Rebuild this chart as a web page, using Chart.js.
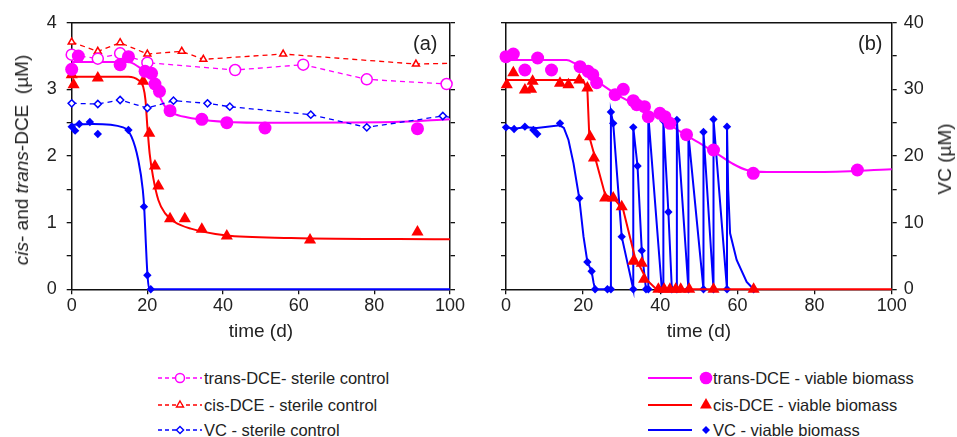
<!DOCTYPE html>
<html><head><meta charset="utf-8">
<script src="https://cdn.jsdelivr.net/npm/chart.js@4.4.1/dist/chart.umd.min.js"></script>
<style>
html,body{margin:0;padding:0;background:#fff;}
body{width:957px;height:437px;position:relative;overflow:hidden;font-family:"Liberation Sans",Arial,sans-serif;color:#222;}
canvas{position:absolute;top:0;}
#ca{left:0;}
#cb{left:470px;}
.lbl{position:absolute;font-size:20px;line-height:20px;}
.ytitle{position:absolute;font-size:19px;line-height:20px;white-space:nowrap;transform:translate(-50%,-50%) rotate(-90deg);}
.leg{position:absolute;font-size:16.5px;line-height:20px;white-space:nowrap;display:flex;align-items:center;height:20px;}
.leg svg{display:block;}
</style></head>
<body>
<canvas id="ca" width="470" height="345"></canvas>
<canvas id="cb" width="487" height="345"></canvas>
<div class="lbl" style="left:413px;top:33px;">(a)</div>
<div class="lbl" style="left:858px;top:33px;">(b)</div>
<div class="ytitle" style="left:22px;top:160px;"><i>cis</i>- and <i>trans</i>-DCE&nbsp;&nbsp;(µM)</div>
<div class="ytitle" style="left:945px;top:159px;">VC&nbsp;(µM)</div>
<div id="legend"></div>
<script>
// ---------------- Panel (a) data ----------------
const A_transSterile_t = [0, 6.9, 12.8, 20, 43.2, 61.2, 78, 99.1];
const A_transSterile_v = [3.52, 3.46, 3.54, 3.40, 3.29, 3.37, 3.15, 3.08];
const A_transSterile_end = 3.07;
const A_cisSterile_t = [0, 6.9, 12.8, 20, 29.1, 34.8, 55.9, 91.0];
const A_cisSterile_v = [3.71, 3.57, 3.70, 3.53, 3.57, 3.45, 3.53, 3.38];
const A_cisSterile_end = 3.39;
const A_vcSterile_t = [0, 6.9, 12.8, 20, 26.9, 35.9, 41.8, 63.2, 78, 98.1];
const A_vcSterile_v = [2.79, 2.78, 2.84, 2.72, 2.83, 2.79, 2.74, 2.62, 2.43, 2.60];
const A_vcSterile_end = 2.58;

const A_transViable_t = [0, 1.75, 12.8, 15.0, 19.4, 21.1, 22.0, 23.2, 26.0, 34.4, 41.0, 51.1, 91.4];
const A_transViable_v = [3.30, 3.50, 3.37, 3.49, 3.27, 3.24, 3.08, 2.97, 2.68, 2.55, 2.50, 2.42, 2.41];
const A_transFit_t = [0, 15, 17.6, 19.9, 22.0, 23.3, 24.7, 26.9, 30.4, 36.6, 49.8, 85, 100];
const A_transFit_v = [3.41, 3.41, 3.34, 3.24, 3.07, 2.89, 2.74, 2.64, 2.58, 2.53, 2.50, 2.51, 2.55];

const A_cisViable_t = [0, 0.5, 6.9, 18.9, 20.5, 22.0, 22.9, 26.0, 29.9, 34.4, 41.0, 63.0, 91.4];
const A_cisViable_v = [3.22, 3.07, 3.17, 3.12, 2.34, 1.85, 1.55, 1.06, 1.06, 0.90, 0.80, 0.74, 0.86];
const A_cisFit_t = [0, 15, 17.6, 18.9, 19.5, 20.0, 20.6, 21.5, 22.9, 24.7, 27.2, 31.5, 40.5, 58, 100];
const A_cisFit_v = [3.19, 3.19, 3.14, 3.04, 2.84, 2.44, 2.04, 1.69, 1.34, 1.14, 1.01, 0.91, 0.81, 0.77, 0.75];

const A_vcViable_t = [0, 0.9, 2.0, 4.8, 6.9, 15.0, 19.1, 20.0, 20.9];
const A_vcViable_v = [2.44, 2.38, 2.48, 2.51, 2.33, 2.39, 1.24, 0.21, 0];
const A_vcFit_t = [0, 5.7, 13.6, 15.8, 17.6, 18.8, 19.2, 19.6, 20.0, 20.5, 100];
const A_vcFit_v = [2.47, 2.48, 2.43, 2.29, 1.94, 1.49, 1.19, 0.69, 0.24, 0, 0];

// ---------------- Panel (b) data ----------------
const B_transViable_t = [0, 1.9, 4.9, 8.2, 11.8, 19.2, 21.3, 22.5, 23.5, 28.3, 30.4, 33.0, 33.9, 35.9, 36.9, 39.9, 41.2, 42.5, 46.8, 53.8, 64.1, 91.1];
const B_transViable_v = [3.49, 3.53, 3.29, 3.47, 3.29, 3.34, 3.27, 3.22, 3.10, 2.92, 3.00, 2.83, 2.77, 2.74, 2.59, 2.64, 2.59, 2.49, 2.32, 2.09, 1.74, 1.79];
const B_transFit_t = [0, 15.7, 17.5, 20, 24.4, 30, 34.7, 40, 45.1, 50, 54.6, 58.9, 62.4, 67.6, 80, 100];
const B_transFit_v = [3.44, 3.44, 3.40, 3.30, 3.09, 2.88, 2.74, 2.56, 2.37, 2.20, 2.04, 1.88, 1.79, 1.76, 1.76, 1.80];

const B_cisViable_t = [0.2, 1.9, 4.9, 6.5, 6.9, 14.0, 16.2, 19.0, 21.1, 21.8, 22.8, 25.7, 27.8, 30.0, 33.0, 35.2, 35.8, 39.5, 41.0, 42.5, 44.0, 45.3, 47.5, 53.8, 64.2];
const B_cisViable_v = [3.07, 3.25, 2.99, 3.00, 3.12, 3.09, 3.07, 3.14, 3.02, 2.29, 1.97, 1.37, 1.37, 1.24, 0.42, 0.39, 0.15, 0, 0, 0, 0, 0, 0, 0, 0];
const B_cisFit_t = [0, 20, 21.1, 21.6, 23.5, 25.7, 28.3, 30.4, 33.4, 36.5, 39, 100];
const B_cisFit_v = [3.14, 3.14, 2.99, 2.29, 1.89, 1.42, 1.34, 1.19, 0.49, 0.14, 0, 0];

// VC (right axis, µM)
const B_vcViable_t = [0, 2.1, 4.9, 7.1, 8.1, 14.0, 19.0, 21.1, 22.2, 23.1, 26.3, 27.2, 27.2, 27.8, 30.0, 33.0, 33.0, 34.1, 35.2, 36.3, 36.9, 36.9, 40.4, 40.8, 42.1, 43.0, 44.3, 44.3, 47.3, 47.3, 51.2, 51.2, 53.8, 53.8, 57.3, 57.3, 64.2];
const B_vcViable_v = [24.3, 24.05, 24.4, 23.9, 23.3, 24.9, 13.65, 4.1, 2.7, 0, 0, 0, 26.6, 24.9, 7.9, 0, 24.3, 18.5, 5.8, 0, 0, 26.1, 0, 25.3, 11.6, 0, 0, 25.4, 0, 23.2, 0, 23.6, 0, 25.5, 0, 24.4, 0];
const B_vcFit_t = [0, 2.1, 4.9, 8.0, 14.0, 15.0, 16.2, 17.5, 19.0, 20.1, 21.1, 22.2, 22.7, 23.1, 27.2, 27.2, 27.8, 30.0, 33.0, 33.0, 34.1, 35.2, 36.3, 36.9, 36.9, 40.4, 40.8, 40.8, 42.1, 43.0, 44.3, 44.3, 47.3, 47.3, 51.2, 51.2, 53.8, 53.8, 57.3, 57.3, 57.6, 58.1, 59.8, 62.4, 64.2];
const B_vcFit_v = [24.3, 24.1, 24.3, 24.2, 24.6, 24.2, 22.4, 18.9, 13.65, 7.9, 4.1, 2.7, 1.0, 0, 0, 26.6, 24.9, 7.9, 0, 24.3, 18.5, 5.8, 0, 0, 26.1, 0, 0, 25.3, 11.6, 0, 0, 25.4, 0, 23.2, 0, 23.6, 0, 25.5, 0, 24.4, 15.0, 8.4, 4.4, 1.1, 0];

// ---------------- tick labels ----------------
const X_TICKS = [0, 20, 40, 60, 80, 100];
const DCE_TICKS = [0, 1, 2, 3, 4];
const VC_TICKS = [0, 10, 20, 30, 40];

const MAGENTA = '#ff00ff', RED = '#ff0000', BLUE = '#0000ff';
const FONT = 'Liberation Sans, Arial, sans-serif';
const INK = '#222';

function pts(t, v) { return t.map((x, i) => ({x: x, y: v[i]})); }
function withEnd(t, v, end) { const d = pts(t, v); d.push({x: 100, y: end, end: true}); return d; }

function sterileDS(label, data, color, style, r) {
  return {label, data, borderColor: color, backgroundColor: '#fff', pointBorderColor: color,
    pointBackgroundColor: '#fff', borderWidth: 1.3, borderDash: [5, 4], pointStyle: style,
    pointRadius: c => (c.raw && c.raw.end) ? 0 : r, pointBorderWidth: 1.5, tension: 0, clip: false, yAxisID: 'y'};
}
function markerDS(label, data, color, style, r, axis) {
  return {label, data, showLine: false, pointStyle: style, pointRadius: r, pointBorderWidth: 0,
    pointBackgroundColor: color, pointBorderColor: color, backgroundColor: color, borderColor: color,
    clip: false, yAxisID: axis || 'y'};
}
function fitDS(label, data, color, axis, smooth) {
  return {label, data, borderColor: color, borderWidth: 2, pointRadius: 0, fill: false,
    tension: 0, cubicInterpolationMode: smooth ? 'monotone' : 'default', clip: false, yAxisID: axis || 'y'};
}

const gridOpt = {display: true, drawOnChartArea: false, drawTicks: true, tickLength: 5, color: '#111', lineWidth: 1.3};
const borderOpt = {display: true, color: '#111', width: 1.5};
const tickFont = {family: FONT, size: 18};

function xScale() {
  return {type: 'linear', min: 0, max: 100, position: 'bottom',
    afterBuildTicks: s => { s.ticks = X_TICKS.map(v => ({value: v})); },
    ticks: {font: tickFont, color: INK, padding: 1, maxRotation: 0},
    grid: gridOpt, border: borderOpt,
    title: {display: true, text: 'time (d)', font: {family: FONT, size: 19}, color: INK, padding: {top: 0, bottom: 2}},
    afterFit: s => { s.height = 55.7; }};
}
function halfSteps(max) { const a = []; for (let v = 0; v <= max + 1e-9; v += 0.5) a.push({value: v}); return a; }

const framePlugin = {
  id: 'frame',
  afterDraw(chart) {
    const {ctx, chartArea: a} = chart;
    ctx.save(); ctx.strokeStyle = '#111'; ctx.lineWidth = 1.5;
    ctx.beginPath(); ctx.moveTo(a.left, a.top); ctx.lineTo(a.right, a.top); ctx.stroke();
    ctx.restore();
  }
};

const common = {
  responsive: false, animation: false, devicePixelRatio: 1,
  layout: {padding: {top: 22.7, left: 0, right: 0, bottom: 0}},
  plugins: {legend: {display: false}, tooltip: {enabled: false}},
  parsing: true, normalized: true
};

// ---------- Chart (a) ----------
new Chart(document.getElementById('ca'), {
  type: 'line',
  data: {datasets: [
    markerDS('trans-DCE - viable biomass', pts(A_transViable_t, A_transViable_v), MAGENTA, 'circle', 6.5),
    markerDS('cis-DCE - viable biomass', pts(A_cisViable_t, A_cisViable_v), RED, 'triangle', 7),
    markerDS('VC - viable biomass', pts(A_vcViable_t, A_vcViable_v), BLUE, 'rectRot', 4.2),
    sterileDS('trans-DCE- sterile control', withEnd(A_transSterile_t, A_transSterile_v, A_transSterile_end), MAGENTA, 'circle', 5.5),
    sterileDS('cis-DCE - sterile control', withEnd(A_cisSterile_t, A_cisSterile_v, A_cisSterile_end), RED, 'triangle', 4),
    sterileDS('VC - sterile control', withEnd(A_vcSterile_t, A_vcSterile_v, A_vcSterile_end), BLUE, 'rectRot', 3.6),
    fitDS('trans fit', pts(A_transFit_t, A_transFit_v), MAGENTA, 'y', true),
    fitDS('cis fit', pts(A_cisFit_t, A_cisFit_v), RED, 'y', true),
    fitDS('VC fit', pts(A_vcFit_t, A_vcFit_v), BLUE, 'y', true)
  ]},
  options: Object.assign({}, common, {
    scales: {
      x: xScale(),
      y: {type: 'linear', min: 0, max: 4, position: 'left',
        afterBuildTicks: s => { s.ticks = halfSteps(4); },
        ticks: {font: tickFont, color: INK, padding: 10, callback: v => DCE_TICKS.includes(v) ? String(v) : ''},
        grid: gridOpt, border: borderOpt, afterFit: s => { s.width = 71.7; }},
      yR: {type: 'linear', min: 0, max: 4, position: 'right',
        afterBuildTicks: s => { s.ticks = halfSteps(4); },
        ticks: {callback: () => ''}, grid: gridOpt, border: borderOpt, afterFit: s => { s.width = 20; }}
    }
  }),
  plugins: [framePlugin]
});

// ---------- Chart (b) ----------
new Chart(document.getElementById('cb'), {
  type: 'line',
  data: {datasets: [
    markerDS('trans-DCE - viable biomass', pts(B_transViable_t, B_transViable_v), MAGENTA, 'circle', 6.5),
    markerDS('cis-DCE - viable biomass', pts(B_cisViable_t, B_cisViable_v), RED, 'triangle', 7),
    fitDS('cis fit', pts(B_cisFit_t, B_cisFit_v), RED, 'y', false),
    markerDS('VC - viable biomass', pts(B_vcViable_t, B_vcViable_v), BLUE, 'rectRot', 4.2, 'yVC'),
    fitDS('VC fit', pts(B_vcFit_t, B_vcFit_v), BLUE, 'yVC', false),
    fitDS('trans fit', pts(B_transFit_t, B_transFit_v), MAGENTA, 'y', true)
  ]},
  options: Object.assign({}, common, {
    scales: {
      x: xScale(),
      y: {type: 'linear', min: 0, max: 4, position: 'left',
        afterBuildTicks: s => { s.ticks = halfSteps(4); },
        ticks: {callback: () => ''}, grid: gridOpt, border: borderOpt, afterFit: s => { s.width = 36; }},
      yVC: {type: 'linear', min: 0, max: 40, position: 'right',
        afterBuildTicks: s => { const a = []; for (let v = 0; v <= 40; v += 5) a.push({value: v}); s.ticks = a; },
        ticks: {font: tickFont, color: INK, padding: 7, callback: v => VC_TICKS.includes(v) ? String(v) : ''},
        grid: gridOpt, border: borderOpt, afterFit: s => { s.width = 65.3; }}
    }
  }),
  plugins: [framePlugin]
});

// ---------- Legend (HTML) ----------
const LEGEND_LEFT = [
  {text: 'trans-DCE- sterile control', color: MAGENTA, mark: 'ocircle'},
  {text: 'cis-DCE - sterile control', color: RED, mark: 'otri'},
  {text: 'VC - sterile control', color: BLUE, mark: 'odiam'}
];
const LEGEND_RIGHT = [
  {text: 'trans-DCE - viable biomass', color: MAGENTA, mark: 'circle'},
  {text: 'cis-DCE - viable biomass', color: RED, mark: 'tri'},
  {text: 'VC - viable biomass', color: BLUE, mark: 'diam'}
];
const ROW_Y = [378, 405, 430];
function markSVG(kind, cx, color) {
  const cy = 10;
  switch (kind) {
    case 'ocircle': return `<circle cx="${cx}" cy="${cy}" r="4.5" fill="#fff" stroke="${color}" stroke-width="1.5"/>`;
    case 'otri': return `<polygon points="${cx},${cy-4} ${cx+3.5},${cy+2} ${cx-3.5},${cy+2}" fill="#fff" stroke="${color}" stroke-width="1.4"/>`;
    case 'odiam': return `<polygon points="${cx},${cy-3.6} ${cx+3.6},${cy} ${cx},${cy+3.6} ${cx-3.6},${cy}" fill="#fff" stroke="${color}" stroke-width="1.4"/>`;
    case 'circle': return `<circle cx="${cx}" cy="${cy}" r="6.3" fill="${color}"/>`;
    case 'tri': return `<polygon points="${cx},${cy-7} ${cx+6},${cy+3.5} ${cx-6},${cy+3.5}" fill="${color}"/>`;
    case 'diam': return `<polygon points="${cx},${cy-4} ${cx+4},${cy} ${cx},${cy+4} ${cx-4},${cy}" fill="${color}"/>`;
  }
  return '';
}
let html = '';
LEGEND_LEFT.forEach((it, i) => {
  html += `<div class="leg" style="left:158px;top:${ROW_Y[i]-10}px;">` +
    `<svg width="46" height="20"><line x1="0" y1="10" x2="44" y2="10" stroke="${it.color}" stroke-width="1.3" stroke-dasharray="4,3"/>` +
    markSVG(it.mark, 22, it.color) + `</svg><span>${it.text}</span></div>`;
});
LEGEND_RIGHT.forEach((it, i) => {
  html += `<div class="leg" style="left:648px;top:${ROW_Y[i]-10}px;">` +
    `<svg width="65" height="20"><line x1="0" y1="10" x2="44" y2="10" stroke="${it.color}" stroke-width="2"/>` +
    markSVG(it.mark, 58, it.color) + `</svg><span>${it.text}</span></div>`;
});
document.getElementById('legend').innerHTML = html;
</script>
</body></html>
